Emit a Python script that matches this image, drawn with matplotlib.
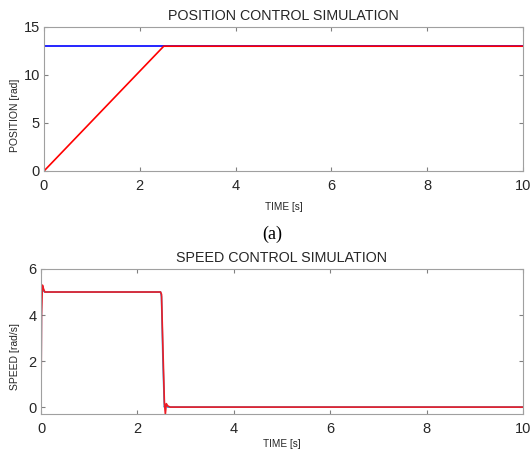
import matplotlib
matplotlib.use("Agg")
import matplotlib.pyplot as plt

# Position control data
time_pos = [0, 2.5, 10]
pos_ref = [13, 13, 13]
pos_out = [0, 13, 13]

# Speed control data
time_speed = [0, 0.01, 0.03, 0.05, 0.08, 0.12, 2.48, 2.50, 2.53, 2.56, 2.58, 2.60, 2.63, 2.68, 10]
speed_ref = [0, 5.0, 5.2, 5.05, 5.0, 5.0, 5.0, 4.8, 2.0, 0.0, 0.1, 0.05, 0, 0, 0]
speed_out = [0, 4.0, 5.3, 5.15, 5.0, 5.0, 5.0, 4.9, 2.5, 0.2, -0.3, 0.15, 0.05, 0, 0]

plt.rcParams['font.family'] = ['Liberation Sans', 'DejaVu Sans']
txt = '#262626'
edge = '#a0a0a0'


def style_axes(ax):
    for s in ax.spines.values():
        s.set_color(edge)
        s.set_linewidth(0.8)
    ax.tick_params(direction='in', length=3, width=0.8, color='#808080',
                   labelsize=10.5, labelcolor=txt, top=True, right=True)
    ax.tick_params(axis='x', pad=6)
    ax.tick_params(axis='y', pad=3)


fig = plt.figure(figsize=(5.32, 4.59), dpi=100)

# Position plot
ax1 = fig.add_axes([44 / 532, 1 - 171 / 459, 479 / 532, 144 / 459])
ax1.plot(time_pos, pos_ref, color='#0000ff', lw=1.2)
ax1.plot(time_pos, pos_out, color='#ff0000', lw=1.2)
ax1.set_xlim(0, 10)
ax1.set_ylim(0, 15)
ax1.set_xticks([0, 2, 4, 6, 8, 10])
ax1.set_yticks([0, 5, 10, 15])
ax1.set_title('POSITION CONTROL SIMULATION', fontsize=10.3, color=txt, pad=5)
ax1.set_xlabel('TIME [s]', fontsize=7.2, color=txt, labelpad=6)
ax1.set_ylabel('POSITION [rad]', fontsize=7.5, color=txt)
style_axes(ax1)
# label sits a bit below the axes centre, as in the original
ax1.yaxis.set_label_coords(-0.05, 0.39)

fig.text(272 / 532, 1 - 234 / 459, '(a)', family='Liberation Serif', fontsize=13,
         ha='center', va='center', color='black')

# Speed plot
ax2 = fig.add_axes([41 / 532, 1 - 414 / 459, 482 / 532, 145 / 459])
ax2.plot(time_speed, speed_ref, color='#2a9ad8', lw=1.2)
ax2.plot(time_speed, speed_out, color='#ee1c25', lw=1.2)
ax2.set_xlim(0, 10)
ax2.set_ylim(-0.3, 6)
ax2.set_xticks([0, 2, 4, 6, 8, 10])
ax2.set_yticks([0, 2, 4, 6])
ax2.set_title('SPEED CONTROL SIMULATION', fontsize=10.3, color=txt, pad=5)
ax2.set_xlabel('TIME [s]', fontsize=7.2, color=txt, labelpad=2)
ax2.set_ylabel('SPEED [rad/s]', fontsize=7.5, color=txt)
style_axes(ax2)
ax2.yaxis.set_label_coords(-0.044, 0.4)

fig.savefig('out.png', dpi=100)
